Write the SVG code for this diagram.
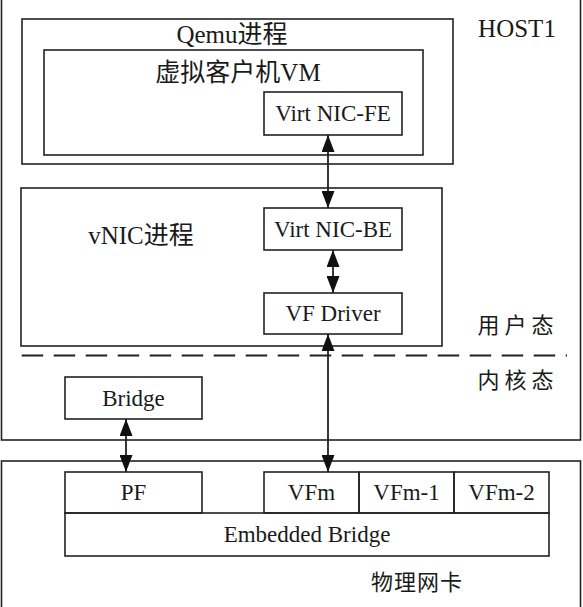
<svg xmlns="http://www.w3.org/2000/svg" width="583" height="607" viewBox="0 0 583 607">
<style>
.box{fill:none;stroke:#222;stroke-width:1.6}
.t{font-family:"Liberation Serif","Noto Sans CJK SC",serif;font-size:23px;fill:#1a1a1a;text-anchor:middle}
.h{font-family:"Liberation Serif","Noto Sans CJK SC",serif;font-size:25px;fill:#1a1a1a;text-anchor:middle}
.c{font-family:"Liberation Serif","Noto Sans CJK SC",serif;font-size:22px;fill:#1a1a1a;text-anchor:middle}
.ln{stroke:#222;stroke-width:1.8;fill:none}
</style>
<defs>
<marker id="ah" markerUnits="userSpaceOnUse" markerWidth="17" markerHeight="13" refX="17" refY="6.5" orient="auto-start-reverse" viewBox="0 0 17 13">
<path d="M0,0 L17,6.5 L0,13 Z" fill="#111"/>
</marker>
</defs>
<rect width="583" height="607" fill="#fff"/>
<g id="host1">
<rect class="box" x="1.5" y="-3" width="579" height="443"/>
<text class="h" x="517" y="37" font-size="26">HOST1</text>
</g>
<g id="qemu">
<rect class="box" x="22" y="19" width="431" height="145"/>
<text class="h" x="232" y="43">Qemu进程</text>
</g>
<g id="vm">
<rect class="box" x="44" y="50" width="379" height="105"/>
<text class="h" x="238" y="81">虚拟客户机VM</text>
</g>
<g id="fe">
<rect class="box" x="264" y="92" width="138" height="43"/>
<text class="t" x="333" y="121">Virt NIC-FE</text>
</g>
<g id="vnic">
<rect class="box" x="21" y="188" width="421" height="158"/>
<text class="h" x="141" y="244">vNIC进程</text>
</g>
<g id="be">
<rect class="box" x="264" y="208" width="138" height="42"/>
<text class="t" x="333" y="237">Virt NIC-BE</text>
</g>
<g id="vfdriver">
<rect class="box" x="264" y="293" width="138" height="41"/>
<text class="t" x="333" y="321">VF Driver</text>
</g>
<g id="user">
<text class="c" x="518" y="333" letter-spacing="5">用户态</text>
</g>
<g id="kernel">
<text class="c" x="518" y="388" letter-spacing="5">内核态</text>
</g>
<g id="divider">
<line x1="21.7" y1="355.5" x2="567" y2="355.5" stroke="#222" stroke-width="1.8" stroke-dasharray="21.5 10.5"/>
</g>
<g id="bridge">
<rect class="box" x="65" y="377" width="137" height="42"/>
<text class="t" x="133.5" y="406">Bridge</text>
</g>
<g id="nic">
<rect class="box" x="1.5" y="461" width="579" height="150"/>
<text class="c" x="417" y="590" letter-spacing="1">物理网卡</text>
</g>
<g id="pf">
<rect class="box" x="65" y="472" width="137" height="41"/>
<text class="t" x="133.5" y="500">PF</text>
</g>
<g id="vfm">
<rect class="box" x="264" y="472" width="95" height="41"/>
<text class="t" x="311.5" y="500">VFm</text>
</g>
<g id="vfm1">
<rect class="box" x="359" y="472" width="95" height="41"/>
<text class="t" x="406.5" y="500">VFm-1</text>
</g>
<g id="vfm2">
<rect class="box" x="454" y="472" width="95" height="41"/>
<text class="t" x="501.5" y="500">VFm-2</text>
</g>
<g id="ebridge">
<rect class="box" x="65" y="513" width="484" height="43"/>
<text class="t" x="307" y="542">Embedded Bridge</text>
</g>
<g id="connectors">
<line class="ln" x1="328" y1="135" x2="328" y2="208" marker-start="url(#ah)" marker-end="url(#ah)"/>
<line class="ln" x1="333" y1="250" x2="333" y2="293" marker-start="url(#ah)" marker-end="url(#ah)"/>
<line class="ln" x1="328" y1="334" x2="328" y2="472" marker-start="url(#ah)" marker-end="url(#ah)"/>
<line class="ln" x1="126" y1="419" x2="126" y2="472" marker-start="url(#ah)" marker-end="url(#ah)"/>
</g>
</svg>
